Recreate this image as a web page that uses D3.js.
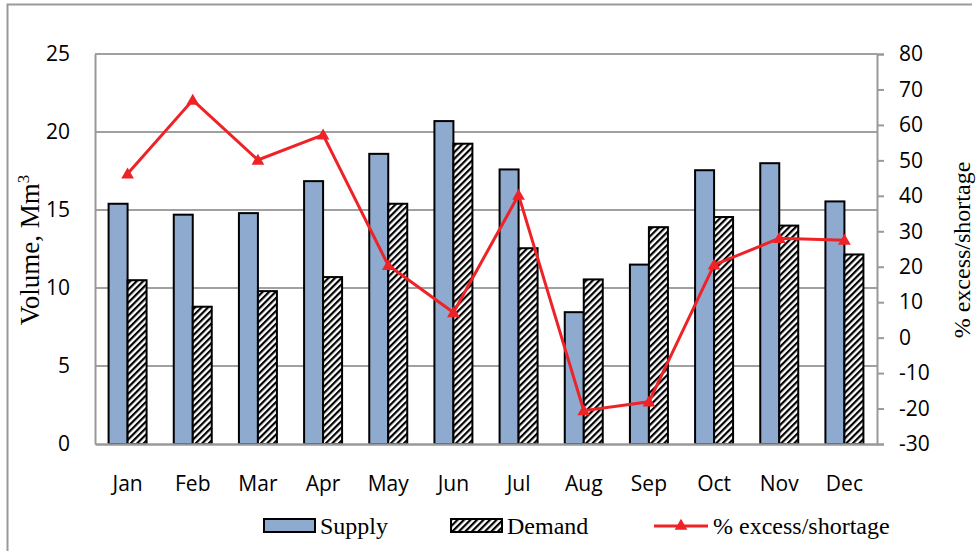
<!DOCTYPE html>
<html><head><meta charset="utf-8">
<script src="https://cdn.jsdelivr.net/npm/d3@7/dist/d3.min.js"></script>
<style>
body{margin:0;background:#fff;}
svg{display:block;}
.tick text{font-family:"Open Sans",sans-serif;}
</style></head>
<body>
<svg id="chart" width="977" height="551"></svg>
<script>
const months = ["Jan","Feb","Mar","Apr","May","Jun","Jul","Aug","Sep","Oct","Nov","Dec"];
const supply = [15.4,14.7,14.8,16.85,18.6,20.7,17.6,8.45,11.5,17.55,18.0,15.55];
const demand = [10.5,8.8,9.8,10.7,15.4,19.25,12.55,10.55,13.9,14.55,14.0,12.15];
const pctExcess = [46.2,67.0,50.1,57.2,20.4,7.1,40.2,-20.6,-18.1,20.5,28.0,27.5];
const leftTicks = [0,5,10,15,20,25];
const rightTicks = [-30,-20,-10,0,10,20,30,40,50,60,70,80];
const seriesNames = ["Supply","Demand","% excess/shortage"];

const svg = d3.select("#chart");
const L = 95, R = 877, T = 54, B = 444;

const defs = svg.append("defs");
const pat = defs.append("pattern").attr("id","hatch").attr("patternUnits","userSpaceOnUse")
  .attr("width",4.6).attr("height",4.6).attr("patternTransform","rotate(45)");
pat.append("rect").attr("width",4.6).attr("height",4.6).attr("fill","#fff");
pat.append("rect").attr("x",0).attr("y",0).attr("width",2.2).attr("height",4.6).attr("fill","#000");

// outer border
svg.append("path").attr("d","M7.5,551 V4.5 H972").attr("fill","none").attr("stroke","#999").attr("stroke-width",2);

const x = d3.scaleBand().domain(months).range([L,R]).paddingInner(0.417).paddingOuter(0.2085);
const xs = d3.scaleBand().domain([0,1]).range([0,x.bandwidth()]);
const yL = d3.scaleLinear().domain([0,25]).range([B,T]);
const yR = d3.scaleLinear().domain([-30,80]).range([B,T]);

// gridlines
svg.append("g").selectAll("line").data(leftTicks.filter(d=>d>0)).join("line")
  .attr("x1",L).attr("x2",R).attr("y1",d=>yL(d)).attr("y2",d=>yL(d))
  .attr("stroke","#a0a0a0").attr("stroke-width",2);

// left axis
const gL = svg.append("g").attr("transform",`translate(${L},0)`)
  .call(d3.axisLeft(yL).tickValues(leftTicks).tickSize(0).tickPadding(25));
gL.select(".domain").attr("stroke","#999").attr("stroke-width",2);
gL.selectAll("text").attr("font-size",21).attr("fill","#000");

// right axis
const gR = svg.append("g").attr("transform",`translate(${R},0)`)
  .call(d3.axisRight(yR).tickValues(rightTicks).tickSize(7).tickPadding(15).tickFormat(d=>String(d)));
gR.select(".domain").attr("stroke","#999").attr("stroke-width",2);
gR.selectAll("line").attr("stroke","#999").attr("stroke-width",2);
gR.selectAll("text").attr("font-size",21).attr("fill","#000");

// bars
const gb = svg.append("g");
months.forEach((m,i)=>{
  gb.append("rect").attr("x",x(m)+xs(0)).attr("width",xs.bandwidth())
    .attr("y",yL(supply[i])).attr("height",yL(0)-yL(supply[i]))
    .attr("fill","#8eaacf").attr("stroke","#000").attr("stroke-width",2);
  gb.append("rect").attr("x",x(m)+xs(1)).attr("width",xs.bandwidth())
    .attr("y",yL(demand[i])).attr("height",yL(0)-yL(demand[i]))
    .attr("fill","url(#hatch)").attr("stroke","#000").attr("stroke-width",2);
});

// bottom axis
const gB = svg.append("g").attr("transform",`translate(0,${B})`)
  .call(d3.axisBottom(x).tickSize(0).tickPadding(32));
gB.select(".domain").attr("stroke","#999").attr("stroke-width",2.5);
gB.selectAll("text").attr("font-size",21).attr("fill","#000");

// line
const cx = m => x(m)+x.bandwidth()/2;
const line = d3.line().x((d,i)=>cx(months[i])).y(d=>yR(d));
svg.append("path").datum(pctExcess).attr("d",line).attr("fill","none")
  .attr("stroke","#ee2227").attr("stroke-width",3);
const tri = d3.symbol().type(d3.symbolTriangle).size(70);
svg.append("g").selectAll("path").data(pctExcess).join("path")
  .attr("d",tri).attr("transform",(d,i)=>`translate(${cx(months[i])},${yR(d)+1})`)
  .attr("fill","#ee2227");

// axis titles
svg.append("text").attr("transform","translate(39,250) rotate(-90)").attr("text-anchor","middle")
  .attr("font-family","Liberation Serif, Times New Roman, serif").attr("font-size",27)
  .text("Volume, Mm").append("tspan").attr("font-size",17).attr("dy",-10).text("3");
svg.append("text").attr("transform","translate(970,250) rotate(-90)").attr("text-anchor","middle")
  .attr("font-family","Liberation Serif, Times New Roman, serif").attr("font-size",24)
  .text(seriesNames[2]);

// legend
const lg = svg.append("g").attr("font-family","Liberation Serif, Times New Roman, serif").attr("font-size",24);
const ly = 526;
lg.append("rect").attr("x",264).attr("y",ly-7).attr("width",51).attr("height",13)
  .attr("fill","#8eaacf").attr("stroke","#000").attr("stroke-width",2);
lg.append("text").attr("x",320).attr("y",ly+8).text(seriesNames[0]);
lg.append("rect").attr("x",451).attr("y",ly-7).attr("width",51).attr("height",13)
  .attr("fill","url(#hatch)").attr("stroke","#000").attr("stroke-width",2);
lg.append("text").attr("x",507).attr("y",ly+8).text(seriesNames[1]);
lg.append("line").attr("x1",654).attr("x2",708).attr("y1",ly).attr("y2",ly).attr("stroke","#ee2227").attr("stroke-width",3);
lg.append("path").attr("d",tri).attr("transform",`translate(681,${ly})`).attr("fill","#ee2227");
lg.append("text").attr("x",713).attr("y",ly+8).text(seriesNames[2]);
</script>
</body></html>
